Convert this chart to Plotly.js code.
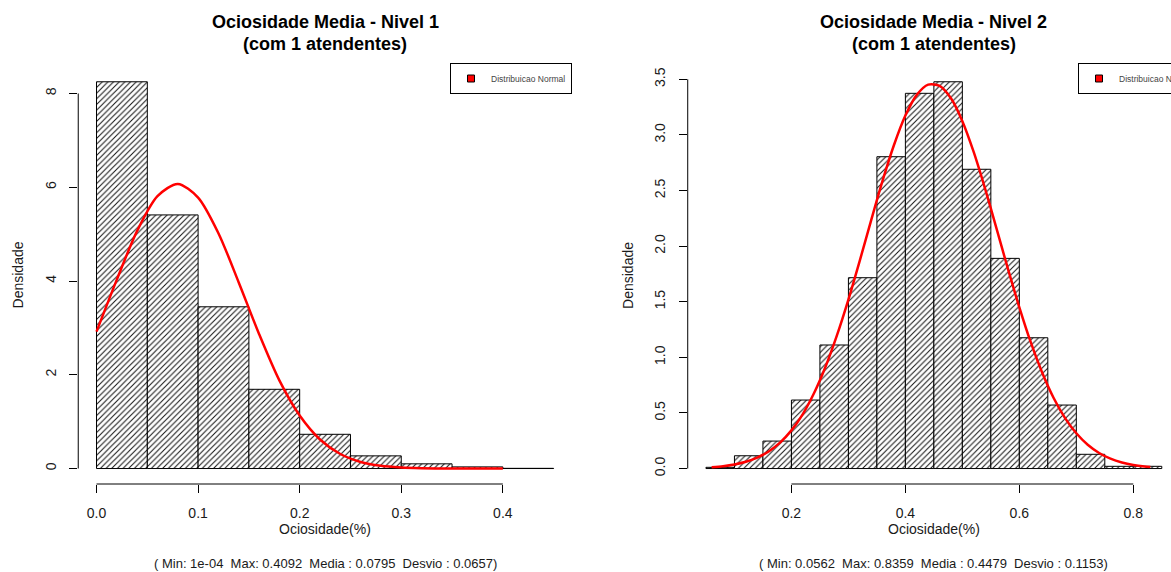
<!DOCTYPE html>
<html>
<head>
<meta charset="utf-8">
<script src="https://cdn.plot.ly/plotly-3.0.1.min.js"></script>
<style>
  html, body { margin: 0; padding: 0; background: #fff; overflow: hidden; }
  #chart { width: 1200px; height: 572px; }
</style>
</head>
<body>
<div id="chart"></div>
<script>
// ---------- data ----------
// Panel 1 (Nivel 1): histogram bins (left edges) and densities
const n1BinStart = [0.00, 0.05, 0.10, 0.15, 0.20, 0.25, 0.30, 0.35, 0.40];
const n1Density  = [8.25, 5.41, 3.45, 1.69, 0.73, 0.27, 0.10, 0.035, 0.004];
// Panel 1 normal curve
const n1CurveX = [0.00, 0.02, 0.04, 0.06, 0.08, 0.10, 0.12, 0.14, 0.16, 0.18, 0.20,
                  0.22, 0.24, 0.26, 0.28, 0.30, 0.32, 0.34, 0.36, 0.38, 0.40];
const n1CurveY = [2.92, 4.03, 5.07, 5.81, 6.07, 5.78, 5.02, 3.97, 2.87, 1.88, 1.13,
                  0.62, 0.31, 0.14, 0.058, 0.022, 0.007, 0.002, 0.0006, 0.0001, 0.00002];

// Panel 2 (Nivel 2)
const n2BinStart = [0.05, 0.10, 0.15, 0.20, 0.25, 0.30, 0.35, 0.40, 0.45, 0.50,
                    0.55, 0.60, 0.65, 0.70, 0.75, 0.80];
const n2Density  = [0.011, 0.115, 0.247, 0.616, 1.111, 1.716, 2.804, 3.374, 3.478, 2.691,
                    1.890, 1.176, 0.571, 0.128, 0.020, 0.020];
const n2CurveX = [0.06, 0.08, 0.10, 0.12, 0.14, 0.16, 0.18, 0.20, 0.22, 0.24,
                  0.26, 0.28, 0.30, 0.32, 0.34, 0.36, 0.38, 0.40, 0.42, 0.44,
                  0.46, 0.48, 0.50, 0.52, 0.54, 0.56, 0.58, 0.60, 0.62, 0.64,
                  0.66, 0.68, 0.70, 0.72, 0.74, 0.76, 0.78, 0.80, 0.82, 0.83];
const n2CurveY = [0.0121, 0.0213, 0.0365, 0.0606, 0.0979, 0.153, 0.233, 0.343, 0.490, 0.681,
                  0.917, 1.199, 1.519, 1.870, 2.233, 2.588, 2.909, 3.174, 3.360, 3.452,
                  3.441, 3.329, 3.124, 2.845, 2.515, 2.157, 1.795, 1.450, 1.136, 0.864,
                  0.637, 0.456, 0.317, 0.214, 0.140, 0.0886, 0.0546, 0.0326, 0.0189, 0.0143];

// ticks
const n1XTicks = [0.0, 0.1, 0.2, 0.3, 0.4];
const n1XTickText = ['0.0', '0.1', '0.2', '0.3', '0.4'];
const n1YTicks = [0, 2, 4, 6, 8];
const n1YTickText = ['0', '2', '4', '6', '8'];
const n2XTicks = [0.2, 0.4, 0.6, 0.8];
const n2XTickText = ['0.2', '0.4', '0.6', '0.8'];
const n2YTicks = [0, 0.5, 1, 1.5, 2, 2.5, 3, 3.5];
const n2YTickText = ['0.0', '0.5', '1.0', '1.5', '2.0', '2.5', '3.0', '3.5'];

// texts
const titles = ['Ociosidade Media - Nivel 1', 'Ociosidade Media - Nivel 2'];
const subTitle = '(com 1 atendentes)';
const xLabel = 'Ociosidade(%)';
const yLabel = 'Densidade';
const legendLabel = 'Distribuicao Normal';
const stats = [
  '( Min: 1e-04  Max: 0.4092  Media : 0.0795  Desvio : 0.0657)',
  '( Min: 0.0562  Max: 0.8359  Media : 0.4479  Desvio : 0.1153)'
];

// ---------- figure ----------
const W = 1200, H = 572;
const FONT = 'Liberation Sans, Arial, sans-serif';
const TXT = '#1a1a1a';
const binWidth = n1BinStart[1] - n1BinStart[0];
const py = p => 1 - p / H;   // pixel row -> paper y
const px = p => p / W;       // pixel col -> paper x

const hatch = {shape: '/', fgcolor: '#111', bgcolor: '#fff', size: 4, solidity: 0.25};

const traces = [
  {type: 'bar', x: n1BinStart, y: n1Density, offset: 0, width: binWidth,
   marker: {color: '#fff', pattern: hatch, line: {color: '#000', width: 1}},
   xaxis: 'x', yaxis: 'y', showlegend: false},
  {type: 'scatter', mode: 'lines', x: n1CurveX, y: n1CurveY,
   line: {color: '#ff0000', width: 2.5, shape: 'spline', smoothing: 0.8},
   xaxis: 'x', yaxis: 'y', showlegend: false},
  {type: 'scatter', mode: 'markers', x: [null], y: [null], name: legendLabel,
   marker: {symbol: 'square', color: '#ff0000', size: 7, line: {color: '#000', width: 1}},
   xaxis: 'x', yaxis: 'y', legend: 'legend', showlegend: true},

  {type: 'bar', x: n2BinStart, y: n2Density, offset: 0, width: binWidth,
   marker: {color: '#fff', pattern: hatch, line: {color: '#000', width: 1}},
   xaxis: 'x2', yaxis: 'y2', showlegend: false},
  {type: 'scatter', mode: 'lines', x: n2CurveX, y: n2CurveY,
   line: {color: '#ff0000', width: 2.5, shape: 'spline', smoothing: 0.8},
   xaxis: 'x2', yaxis: 'y2', showlegend: false},
  {type: 'scatter', mode: 'markers', x: [null], y: [null], name: legendLabel,
   marker: {symbol: 'square', color: '#ff0000', size: 7, line: {color: '#000', width: 1}},
   xaxis: 'x2', yaxis: 'y2', legend: 'legend2', showlegend: true}
];

const axisCommon = {
  showgrid: false, zeroline: false, showline: false,
  ticks: 'outside', ticklen: 8, tickwidth: 1, tickcolor: '#000',
  tickfont: {family: FONT, size: 14, color: TXT},
  ticklabelstandoff: 8, fixedrange: true
};

const yDom = [py(484), py(66.3)];

const legendCommon = {
  font: {family: FONT, size: 8.5, color: '#444'},
  bgcolor: '#fff', bordercolor: '#000', borderwidth: 1,
  yanchor: 'top', y: py(63), itemwidth: 30, tracegroupgap: 0
};

function axisLines(xa, ya, xt, yt) {
  return [
    {type: 'line', xref: xa, yref: ya + ' domain', x0: xt[0], x1: xt[xt.length - 1], y0: 0, y1: 0,
     line: {color: '#000', width: 1}},
    {type: 'line', xref: xa + ' domain', yref: ya, x0: 0, x1: 0, y0: yt[0], y1: yt[yt.length - 1],
     line: {color: '#000', width: 1}}
  ];
}

function panelTexts(xa, ya, i, yTitleX) {
  const f = (s, b) => ({family: FONT, size: s, color: b ? '#000' : TXT});
  return [
    {xref: xa + ' domain', x: 0.5, yref: 'paper', y: py(22), yanchor: 'middle',
     text: '<b>' + titles[i] + '</b>', showarrow: false, font: f(18, true)},
    {xref: xa + ' domain', x: 0.5, yref: 'paper', y: py(44), yanchor: 'middle',
     text: '<b>' + subTitle + '</b>', showarrow: false, font: f(18, true)},
    {xref: xa + ' domain', x: 0.5, yref: 'paper', y: py(528.5), yanchor: 'middle',
     text: xLabel, showarrow: false, font: f(14)},
    {xref: xa + ' domain', x: 0.5, yref: 'paper', y: py(563), yanchor: 'middle',
     text: stats[i], showarrow: false, font: f(13)},
    {xref: 'paper', x: px(yTitleX), xanchor: 'center', yref: ya + ' domain', y: 0.5,
     text: yLabel, textangle: -90, showarrow: false, font: f(14)}
  ];
}

const layout = {
  width: W, height: H,
  margin: {l: 0, r: 0, t: 0, b: 0, pad: 0},
  paper_bgcolor: '#fff', plot_bgcolor: 'rgba(0,0,0,0)',
  bargap: 0,
  xaxis: Object.assign({}, axisCommon, {domain: [px(78.3), px(572.4)], range: [-0.018, 0.468],
         tickvals: n1XTicks, ticktext: n1XTickText, anchor: 'y'}),
  yaxis: Object.assign({}, axisCommon, {domain: yDom, range: [-0.33, 8.58],
         tickvals: n1YTicks, ticktext: n1YTickText, tickangle: -90, anchor: 'x'}),
  xaxis2: Object.assign({}, axisCommon, {domain: [px(688.3), px(1181)], range: [0.018, 0.882],
         tickvals: n2XTicks, ticktext: n2XTickText, anchor: 'y2'}),
  yaxis2: Object.assign({}, axisCommon, {domain: yDom, range: [-0.139, 3.617],
         tickvals: n2YTicks, ticktext: n2YTickText, tickangle: -90, anchor: 'x2'}),
  legend: Object.assign({}, legendCommon, {x: px(572), xanchor: 'right'}),
  legend2: Object.assign({}, legendCommon, {x: px(1079), xanchor: 'left'}),
  shapes: [].concat(axisLines('x', 'y', n1XTicks, n1YTicks), axisLines('x2', 'y2', n2XTicks, n2YTicks)),
  annotations: [].concat(panelTexts('x', 'y', 0, 18.3), panelTexts('x2', 'y2', 1, 628.3)),
  showlegend: true
};

Plotly.newPlot('chart', traces, layout, {staticPlot: true, displayModeBar: false});
</script>
</body>
</html>
